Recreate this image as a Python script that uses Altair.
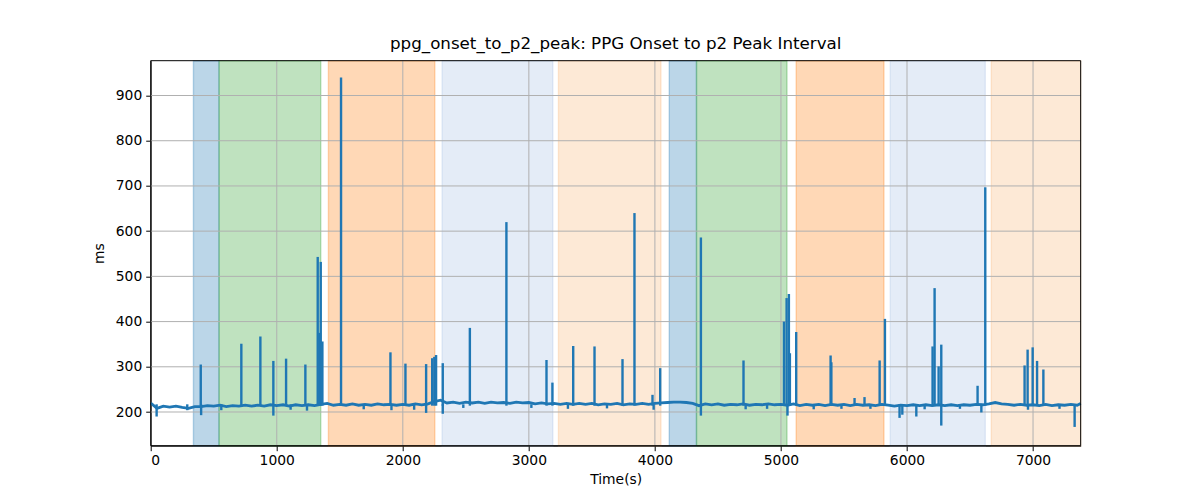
import altair as alt
import pandas as pd

# ---------------- data ----------------
# baseline samples (every 50 s, last one at the end of the record)
BASE_T = list(range(0, 7351, 50)) + [7378]
BASE_V = [
    220, 208, 213, 211, 213, 210, 208, 212, 212, 214,
    213, 215, 212, 214, 213, 215, 213, 215, 213, 216,
    214, 216, 213, 216, 214, 216, 214, 217, 219, 215,
    217, 215, 218, 215, 217, 215, 218, 216, 217, 215,
    217, 215, 218, 216, 218, 223, 226, 220, 222, 219,
    222, 220, 222, 219, 222, 220, 221, 219, 222, 220,
    221, 218, 220, 218, 219, 217, 219, 217, 219, 217,
    219, 216, 218, 217, 219, 216, 218, 217, 219, 217,
    219, 220, 221, 222, 222, 221, 219, 214, 218, 216,
    218, 215, 217, 216, 218, 215, 217, 216, 218, 216,
    217, 215, 218, 214, 217, 215, 217, 214, 217, 215,
    217, 214, 217, 215, 216, 214, 217, 215, 213, 215,
    214, 216, 214, 216, 214, 216, 214, 216, 214, 216,
    215, 217, 216, 218, 221, 218, 217, 215, 217, 215,
    216, 214, 217, 214, 216, 215, 217, 215,
    219,
]

# upward spikes: time (s), peak (ms)
SPIKE_T = [397, 719, 870, 973, 1074, 1227, 1325, 1338, 1349, 1362,
           1510, 1902, 2021, 2185, 2233, 2250, 2264, 2317, 2532, 2822,
           3140, 3187, 3352, 3521, 3743, 3838, 3981, 4042, 4365, 4703,
           5024, 5045, 5063, 5071, 5121, 5394, 5400, 5584, 5663, 5783,
           5825, 6203, 6219, 6251, 6272, 6560, 6621, 6933, 6957, 6997,
           7032, 7082]
SPIKE_V = [305, 351, 367, 313, 318, 305, 543, 375, 532, 356,
           940, 332, 307, 306, 319, 322, 326, 308, 386, 620,
           315, 265, 346, 345, 317, 640, 238, 297, 586, 314,
           400, 452, 461, 330, 377, 325, 310, 231, 233, 314,
           406, 345, 474, 301, 349, 258, 697, 303, 338, 343,
           313, 294]

# downward dips: time (s), minimum (ms)
DIP_T = [47, 290, 400, 560, 973, 1110, 1240, 1690, 1910, 2090, 2185, 2317,
         2480, 3020, 3310, 3620, 3990, 4365, 4720, 4890, 5052, 5260, 5480,
         5710, 5941, 5963, 6074, 6140, 6272, 6420, 6590, 6960, 7210, 7330]
DIP_V = [190, 204, 193, 204, 192, 205, 203, 206, 204, 205, 198, 196,
         209, 209, 207, 208, 205, 192, 206, 207, 192, 206, 207,
         207, 187, 194, 190, 206, 170, 207, 199, 205, 207, 167]

# shaded segments
BAND_START = [339, 542, 1410, 2312, 3235, 4114, 4330, 5121, 5867, 6669]
BAND_END = [542, 1349, 2254, 3190, 4048, 4330, 5048, 5817, 6621, 7378]
BAND_KIND = ["a", "b", "c", "d", "e", "a", "b", "c", "d", "e"]
BAND_KINDS = ["a", "b", "c", "d", "e"]
BAND_COLORS = ["#1f77b4", "#2ca02c", "#ff7f0e", "#a5c0e4", "#f8b676"]

X_TICKS = [0, 1000, 2000, 3000, 4000, 5000, 6000, 7000]
Y_TICKS = [200, 300, 400, 500, 600, 700, 800, 900]

X_DOMAIN = [0, 7378]
Y_DOMAIN = [125.5, 977]

# ---------------- tables ----------------
base_df = pd.DataFrame({"t": BASE_T, "v": BASE_V[: len(BASE_T)]})
spike_df = pd.DataFrame({"t": SPIKE_T, "top": SPIKE_V, "bottom": [214] * len(SPIKE_T)})
dip_df = pd.DataFrame({"t": DIP_T, "top": [217] * len(DIP_T), "bottom": DIP_V})
spikes = pd.concat([spike_df, dip_df], ignore_index=True)
band_df = pd.DataFrame({"start": BAND_START, "end": BAND_END, "kind": BAND_KIND})
xgrid_df = pd.DataFrame({"t": X_TICKS})
ygrid_df = pd.DataFrame({"v": Y_TICKS})

W, H = 930, 385
FONT = "DejaVu Sans"

xscale = alt.Scale(domain=X_DOMAIN, nice=False, zero=False)
yscale = alt.Scale(domain=Y_DOMAIN, nice=False, zero=False)
xaxis = alt.Axis(values=X_TICKS, format="d", grid=False, title="Time(s)",
                 tickSize=5, tickColor="black", domainColor="black",
                 labelPadding=3, titlePadding=5)
yaxis = alt.Axis(values=Y_TICKS, format="d", grid=False, title="ms",
                 tickSize=5, tickColor="black", domainColor="black",
                 labelPadding=4, titlePadding=9)

bands = alt.Chart(band_df).mark_rect(
    fillOpacity=0.3, strokeOpacity=0.3, strokeWidth=1.4
).encode(
    x=alt.X("start:Q", scale=xscale, axis=xaxis),
    x2="end:Q",
    y=alt.value(0),
    y2=alt.value(H),
    color=alt.Color("kind:N", scale=alt.Scale(domain=BAND_KINDS, range=BAND_COLORS), legend=None),
    stroke=alt.Stroke("kind:N", scale=alt.Scale(domain=BAND_KINDS, range=BAND_COLORS), legend=None),
)

xgrid = alt.Chart(xgrid_df).mark_rule(color="#b0b0b0", strokeWidth=1).encode(
    x=alt.X("t:Q", scale=xscale, axis=xaxis)
)
ygrid = alt.Chart(ygrid_df).mark_rule(color="#b0b0b0", strokeWidth=1).encode(
    y=alt.Y("v:Q", scale=yscale, axis=yaxis)
)

line = alt.Chart(base_df).mark_line(color="#1f77b4", strokeWidth=2.8).encode(
    x=alt.X("t:Q", scale=xscale, axis=xaxis),
    y=alt.Y("v:Q", scale=yscale, axis=yaxis),
)

spike_rules = alt.Chart(spikes).mark_rule(color="#1f77b4", strokeWidth=2.4).encode(
    x=alt.X("t:Q", scale=xscale, axis=xaxis),
    y=alt.Y("top:Q", scale=yscale, axis=yaxis),
    y2="bottom:Q",
)

frame = alt.Chart(pd.DataFrame({"f": [0]})).mark_rect(
    fillOpacity=0, stroke="black", strokeWidth=1
).encode(
    x=alt.value(0), x2=alt.value(W), y=alt.value(0), y2=alt.value(H)
)

chart = alt.layer(bands, xgrid, ygrid, line, spike_rules, frame).properties(
    width=W,
    height=H,
    background="white",
    title=alt.TitleParams(
        "ppg_onset_to_p2_peak: PPG Onset to p2 Peak Interval",
        font=FONT, fontSize=16.7, fontWeight="normal", color="black",
        anchor="middle", offset=7,
    ),
    autosize=alt.AutoSizeParams(type="none"),
    padding={"left": 142.7, "top": 52.7, "right": 100, "bottom": 40},
).configure_view(
    stroke=None
).configure_axis(
    labelFont=FONT, titleFont=FONT, labelFontSize=13.9, titleFontSize=13.9,
    labelColor="black", titleColor="black", titleFontWeight="normal",
)

chart.save("out.html", embed_options={"renderer": "svg", "actions": False})
